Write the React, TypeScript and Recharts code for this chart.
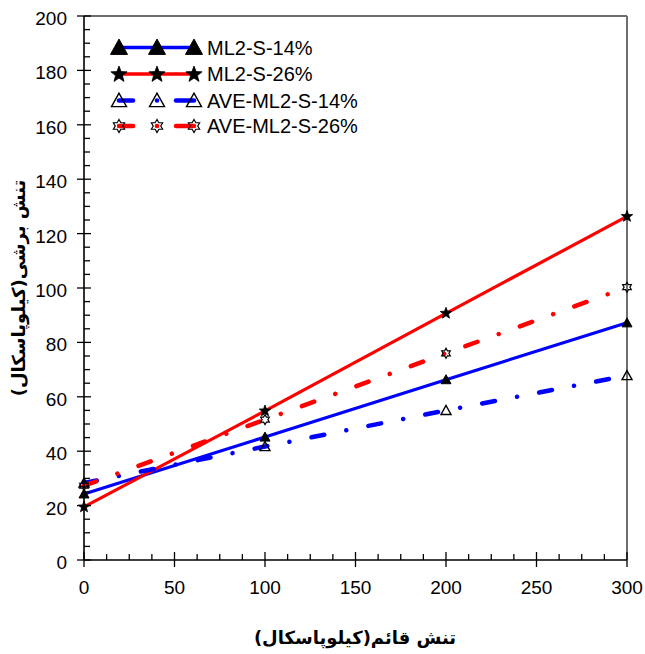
import React from 'react';
import { LineChart, Line, XAxis, YAxis, ReferenceLine } from 'recharts';

// ---- data ----
const normalStress = [0, 100, 200, 300];
const ml2S14 = [24.3, 45.2, 66.3, 87.2];
const ml2S26 = [19.5, 54.8, 90.7, 126.3];
const aveMl2S14 = [28.3, 41.7, 55.0, 67.8];
const aveMl2S26 = [27.3, 51.6, 76.0, 100.3];
const seriesNames = ['ML2-S-14%', 'ML2-S-26%', 'AVE-ML2-S-14%', 'AVE-ML2-S-26%'];
const xTicks = [0, 12.5, 25, 37.5, 50, 62.5, 75, 87.5, 100, 112.5, 125, 137.5, 150, 162.5, 175, 187.5, 200, 212.5, 225, 237.5, 250, 262.5, 275, 287.5, 300];
const yTicks = [0, 5, 10, 15, 20, 25, 30, 35, 40, 45, 50, 55, 60, 65, 70, 75, 80, 85, 90, 95, 100, 105, 110, 115, 120, 125, 130, 135, 140, 145, 150, 155, 160, 165, 170, 175, 180, 185, 190, 195, 200];
const xTitle = 'تنش قائم(کیلوپاسکال)';
const yTitle = 'تنش برشی(کیلوپاسکال)';

const data = normalStress.map((x, i) => ({
  x,
  s14: ml2S14[i],
  s26: ml2S26[i],
  a14: aveMl2S14[i],
  a26: aveMl2S26[i],
}));

const FONT = "'Liberation Sans', Arial, 'DejaVu Sans', sans-serif";
const TITLE_FONT = "'DejaVu Sans', sans-serif";
const BLUE = '#0000ff';
const RED = '#ff0000';
const DASH = '13 22.5 0.01 22.5';

// ---- marker shapes ----
const triPoints = (cx: number, cy: number, w: number) => {
  const h = w * 0.9;
  return `${cx},${cy - h * 0.55} ${cx - w / 2},${cy + h * 0.45} ${cx + w / 2},${cy + h * 0.45}`;
};
const starPoints = (cx: number, cy: number, R: number, r: number) => {
  const pts: string[] = [];
  for (let i = 0; i < 10; i++) {
    const a = -Math.PI / 2 + (i * Math.PI) / 5;
    const rad = i % 2 === 0 ? R : r;
    pts.push(`${cx + rad * Math.cos(a)},${cy + rad * Math.sin(a)}`);
  }
  return pts.join(' ');
};
const hexPoints = (cx: number, cy: number, R: number) => {
  const pts: string[] = [];
  const r = R / Math.sqrt(3);
  for (let i = 0; i < 12; i++) {
    const a = -Math.PI / 2 + (i * Math.PI) / 6;
    const rad = i % 2 === 0 ? R : r;
    pts.push(`${cx + rad * Math.cos(a)},${cy + rad * Math.sin(a)}`);
  }
  return pts.join(' ');
};

const FilledTri = ({ cx, cy, w }: any) => <polygon points={triPoints(cx, cy, w)} fill="#000" stroke="#000" strokeWidth={1} />;
const OpenTri = ({ cx, cy, w }: any) => <polygon points={triPoints(cx, cy, w)} fill="none" stroke="#000" strokeWidth={1.4} />;
const Star = ({ cx, cy, R }: any) => <polygon points={starPoints(cx, cy, R, R * 0.42)} fill="#000" stroke="#000" strokeWidth={0.8} />;
const Hexa = ({ cx, cy, R }: any) => <polygon points={hexPoints(cx, cy, R)} fill="none" stroke="#000" strokeWidth={1.2} />;

const dotS14 = (p: any) => <FilledTri key={`s14-${p.index}`} cx={p.cx} cy={p.cy} w={10} />;
const dotS26 = (p: any) => <Star key={`s26-${p.index}`} cx={p.cx} cy={p.cy} R={6} />;
const dotA14 = (p: any) => <OpenTri key={`a14-${p.index}`} cx={p.cx} cy={p.cy} w={10} />;
const dotA26 = (p: any) => <Hexa key={`a26-${p.index}`} cx={p.cx} cy={p.cy} R={5} />;

// ---- ticks ----
const XTick = (props: any) => {
  const { x, y, payload } = props;
  const v = payload.value;
  const major = v % 50 === 0;
  return (
    <g>
      <line x1={x} x2={x} y1={major ? y - 8 : y - 6} y2={major ? y + 7 : y} stroke="#000" strokeWidth={1.3} />
      {major && (
        <text x={x} y={y + 34} textAnchor="middle" fontSize={19} fill="#000" fontFamily={FONT}>
          {v}
        </text>
      )}
    </g>
  );
};

const YTick = (props: any) => {
  const { x, y, payload } = props;
  const v = payload.value;
  const major = v % 20 === 0;
  return (
    <g>
      <line x1={major ? x - 7 : x} x2={major ? x + 7 : x + 6} y1={y} y2={y} stroke="#000" strokeWidth={1.3} />
      {major && (
        <text x={x - 17} y={y + 9} textAnchor="end" fontSize={19} fill="#000" fontFamily={FONT}>
          {v}
        </text>
      )}
    </g>
  );
};

// ---- legend ----
const legendRows = [47.5, 74, 100.5, 126];
const legendMarkX = [119, 157, 194];

const Legend = () => (
  <g>
    {seriesNames.map((name, i) => {
      const cy = legendRows[i];
      const dashed = i >= 2;
      const color = i % 2 === 0 ? BLUE : RED;
      return (
        <g key={name}>
          {dashed ? (
            <g>
              <line x1={legendMarkX[0]} x2={133} y1={cy} y2={cy} stroke={color} strokeWidth={4.5} strokeLinecap="round" />
              <circle cx={legendMarkX[1]} cy={cy} r={2.3} fill={color} />
              <line x1={176} x2={legendMarkX[2]} y1={cy} y2={cy} stroke={color} strokeWidth={4.5} strokeLinecap="round" />
            </g>
          ) : (
            <line x1={legendMarkX[0]} x2={legendMarkX[2]} y1={cy} y2={cy} stroke={color} strokeWidth={3.5} />
          )}
          {legendMarkX.map((mx) => {
            if (i === 0) return <FilledTri key={mx} cx={mx} cy={cy} w={17} />;
            if (i === 1) return <Star key={mx} cx={mx} cy={cy + 0.5} R={8.5} />;
            if (i === 2) return <OpenTri key={mx} cx={mx} cy={cy} w={15} />;
            return <Hexa key={mx} cx={mx} cy={cy} R={6.5} />;
          })}
          <text x={207} y={cy + 7} fontSize={20} fill="#000" fontFamily={FONT}>
            {name}
          </text>
        </g>
      );
    })}
  </g>
);

export default function App() {
  return (
    <div style={{ position: 'absolute', left: 0, top: 0, width: 645, height: 654, background: '#fff' }}>
      <LineChart width={645} height={654} data={data} margin={{ top: 16, right: 18, left: 0, bottom: 0 }}>
        <XAxis
          dataKey="x"
          type="number"
          domain={[0, 300]}
          ticks={xTicks}
          interval={0}
          height={94}
          tickLine={false}
          tickSize={0}
          tickMargin={0}
          tick={<XTick />}
          axisLine={{ stroke: '#000', strokeWidth: 1.6 }}
        />
        <YAxis
          type="number"
          domain={[0, 200]}
          ticks={yTicks}
          interval={0}
          width={84}
          tickLine={false}
          tickSize={0}
          tickMargin={0}
          tick={<YTick />}
          axisLine={{ stroke: '#000', strokeWidth: 1.6 }}
        />
        <ReferenceLine y={200} stroke="#6e6e6e" strokeWidth={2} />
        <ReferenceLine x={300} stroke="#6e6e6e" strokeWidth={2} />
        <Line dataKey="s14" stroke={BLUE} strokeWidth={3.2} dot={dotS14} isAnimationActive={false} />
        <Line dataKey="s26" stroke={RED} strokeWidth={3.2} dot={dotS26} isAnimationActive={false} />
        <Line dataKey="a14" stroke={BLUE} strokeWidth={4.5} strokeDasharray={DASH} strokeLinecap="round" dot={dotA14} isAnimationActive={false} />
        <Line dataKey="a26" stroke={RED} strokeWidth={4.5} strokeDasharray={DASH} strokeLinecap="round" dot={dotA26} isAnimationActive={false} />
      </LineChart>
      <svg width={645} height={654} style={{ position: 'absolute', left: 0, top: 0, pointerEvents: 'none' }}>
        <Legend />
        <text x={355} y={637} textAnchor="middle" dominantBaseline="central" direction="rtl" fontSize={18} fontWeight="bold" fill="#000" fontFamily={TITLE_FONT}>
          {xTitle}
        </text>
        <text
          x={18}
          y={288}
          transform="rotate(-90, 18, 288)"
          textAnchor="middle"
          dominantBaseline="central"
          direction="rtl"
          fontSize={18}
          fontWeight="bold"
          fill="#000"
          fontFamily={TITLE_FONT}
        >
          {yTitle}
        </text>
      </svg>
    </div>
  );
}
